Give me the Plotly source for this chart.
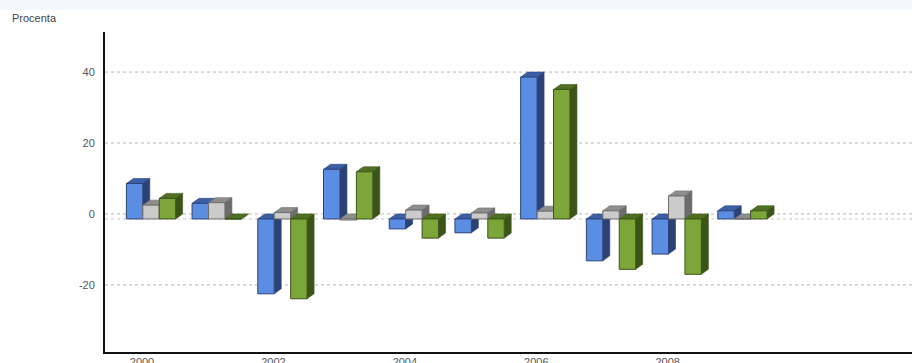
import plotly.graph_objects as go

# Year-on-year change, percent
years = [2000, 2001, 2002, 2003, 2004, 2005, 2006, 2007, 2008, 2009]
series_a = [10.0, 4.4, -21.1, 14.0, -2.8, -3.9, 40.0, -11.8, -9.9, 2.3]
series_b = [3.9, 4.6, 1.8, -0.3, 2.5, 1.7, 2.2, 2.3, 6.5, 0.0]
series_c = [5.8, 0.0, -22.5, 13.3, -5.4, -5.4, 36.5, -14.2, -15.6, 2.3]

y_ticks = [-20, 0, 20, 40]
x_ticks = [2000, 2002, 2004, 2006, 2008]

# colours: front face, top face, side face
palettes = [
    ("#5b8ee3", "#3c5fa6", "#2c4277"),
    ("#cbcbcb", "#8e8e8e", "#6c6c6c"),
    ("#7ca53a", "#4f7020", "#3b5418"),
]
series = [series_a, series_b, series_c]
names = ["řada 1", "řada 2", "řada 3"]

W, H = 912, 363
ML, MR, MT, MB = 105, 0, 32, 11
x_range = [1999.30, 2011.58]
y_range = [-37.5, 52.7]
plot_w = W - ML - MR
plot_h = H - MT - MB
px_x = plot_w / (x_range[1] - x_range[0])
px_y = plot_h / (y_range[1] - y_range[0])

# 3D extrusion depth, converted from pixels to data units
DEPTH_X_PX, DEPTH_Y_PX = 7, 5
dx = DEPTH_X_PX / px_x
dy = DEPTH_Y_PX / px_y

BAR_W = 0.25
GROUP_W = BAR_W * len(series)

fig = go.Figure()
shapes = []

# dotted grid on the back wall, plus the front zero line
for t in y_ticks:
    shapes.append(dict(type="line", xref="paper", yref="y", x0=0, x1=1,
                       y0=t + dy, y1=t + dy, layer="below",
                       line=dict(color="#b4b4b4", width=1, dash="dot")))
shapes.append(dict(type="line", xref="paper", yref="y", x0=0, x1=1,
                   y0=0, y1=0, layer="below",
                   line=dict(color="#c4c4c4", width=1, dash="dot")))

for i, (vals, (front, top, side), name) in enumerate(zip(series, palettes, names)):
    offset = -GROUP_W / 2 + i * BAR_W
    fig.add_trace(go.Bar(
        x=years, y=vals, name=name, width=BAR_W, offset=offset,
        marker=dict(color=front, line=dict(color=side, width=1)),
        showlegend=False, hoverinfo="x+y",
    ))
    for yr, v in zip(years, vals):
        xl = yr + offset
        xr = xl + BAR_W
        yt = max(v, 0)
        yb = min(v, 0)
        # top face
        shapes.append(dict(
            type="path", xref="x", yref="y", layer="below",
            path=f"M {xl},{yt} L {xr},{yt} L {xr + dx},{yt + dy} L {xl + dx},{yt + dy} Z",
            fillcolor=top, line=dict(color=side, width=0.6)))
        # side face
        shapes.append(dict(
            type="path", xref="x", yref="y", layer="below",
            path=f"M {xr},{yb} L {xr + dx},{yb + dy} L {xr + dx},{yt + dy} L {xr},{yt} Z",
            fillcolor=side, line=dict(color=side, width=0.6)))

# pale band along the top edge of the page
band_top = 1 + MT / plot_h
shapes.append(dict(type="rect", xref="paper", yref="paper",
                   x0=-ML / plot_w, x1=1, y0=band_top - 10 / plot_h, y1=band_top,
                   fillcolor="#f1f9fc", line=dict(width=0), layer="below"))

fig.update_layout(
    width=W, height=H,
    margin=dict(l=ML, r=MR, t=MT, b=MB, autoexpand=False),
    paper_bgcolor="white", plot_bgcolor="white",
    barmode="overlay",
    shapes=shapes,
    font=dict(family="Liberation Sans, Arial, sans-serif", size=11, color="#555555"),
    annotations=[dict(
        text="Procenta", xref="paper", yref="paper",
        x=(10 - ML) / plot_w, y=1 + (MT - 18) / plot_h,
        xanchor="left", yanchor="middle", showarrow=False,
        font=dict(size=11, color="#444444"))],
)
fig.update_xaxes(
    range=x_range, tickvals=x_ticks, ticktext=[str(t) for t in x_ticks],
    showgrid=False, zeroline=False, showline=True, linecolor="#111111",
    linewidth=2, ticks="", ticklabelshift=-9, ticklabelstandoff=-1,
    automargin=False, tickfont=dict(size=11, color="#555555"),
)
fig.update_yaxes(
    range=y_range, tickvals=y_ticks, ticktext=[str(t) for t in y_ticks],
    showgrid=False, zeroline=False, showline=True, linecolor="#111111",
    linewidth=2, ticks="", ticklabelshift=-DEPTH_Y_PX, ticklabelstandoff=6,
    automargin=False, tickfont=dict(size=11, color="#555555"),
)

fig.write_html("out.html")
